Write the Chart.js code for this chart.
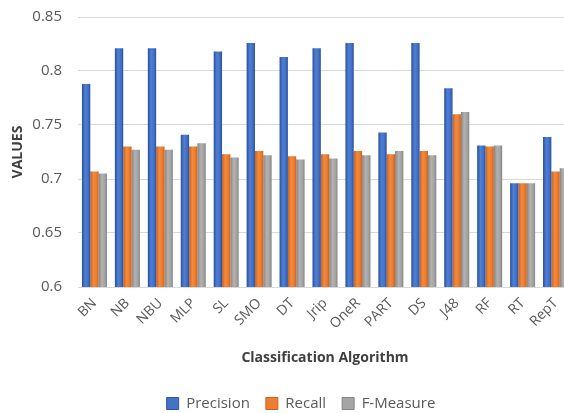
<!DOCTYPE html>
<html>
<head>
  <title>Classification Algorithm Values</title>
  <script src="https://cdn.jsdelivr.net/npm/chart.js"></script>
  <style>
    html, body { margin: 0; padding: 0; background: white; overflow: hidden; }
    #wrap { width: 572px; height: 413px; }
  </style>
</head>
<body>
  <div id="wrap"><canvas id="barChart" width="572" height="413"></canvas></div>

  <script>
    const algorithms = ['BN', 'NB', 'NBU', 'MLP', 'SL', 'SMO', 'DT', 'Jrip', 'OneR', 'PART', 'DS', 'J48', 'RF', 'RT', 'RepT'];
    const precision = [0.788, 0.821, 0.821, 0.741, 0.818, 0.826, 0.813, 0.821, 0.826, 0.743, 0.826, 0.784, 0.731, 0.696, 0.739];
    const recall    = [0.707, 0.730, 0.730, 0.730, 0.723, 0.726, 0.721, 0.723, 0.726, 0.723, 0.726, 0.760, 0.730, 0.696, 0.707];
    const fMeasure  = [0.705, 0.727, 0.727, 0.733, 0.720, 0.722, 0.718, 0.719, 0.722, 0.726, 0.722, 0.762, 0.731, 0.696, 0.710];
    const yTicks = [0.6, 0.65, 0.7, 0.75, 0.8, 0.85];

    const font = "'Open Sans', 'Liberation Sans', sans-serif";

    // side-to-side shading like the office bar style
    function shade(dark, mid, light, flat) {
      return c => {
        const el = c.element;
        if (!el || !el.width) return flat;
        const g = c.chart.ctx.createLinearGradient(el.x - el.width / 2, 0, el.x + el.width / 2, 0);
        g.addColorStop(0, dark);
        g.addColorStop(0.4, light);
        g.addColorStop(0.75, mid);
        g.addColorStop(1, dark);
        return g;
      };
    }

    // nudge the legend a bit right, as in the source picture
    const legendShift = {
      id: 'legendShift',
      afterLayout(chart) {
        chart.legend.left += 13;
        chart.legend.right += 13;
      }
    };

    const ctx = document.getElementById('barChart').getContext('2d');
    const chart = new Chart(ctx, {
      type: 'bar',
      data: {
        labels: algorithms,
        datasets: [
          { label: 'Precision', data: precision, backgroundColor: shade('#2B4F9C', '#4070C4', '#4E80D6', '#4472C4'), borderWidth: 0 },
          { label: 'Recall', data: recall, backgroundColor: shade('#C8621E', '#EB7A2E', '#F38A3E', '#ED7D31'), borderWidth: 0 },
          { label: 'F-Measure', data: fMeasure, backgroundColor: shade('#858585', '#A3A3A3', '#B2B2B2', '#A5A5A5'), borderWidth: 0 }
        ]
      },
      options: {
        responsive: false,
        animation: false,
        // negative bottom padding pushes the legend down toward the edge
        layout: { padding: { top: 17, left: 4, right: 0, bottom: -8 } },
        datasets: { bar: { categoryPercentage: 0.76, barPercentage: 1.0 } },
        plugins: {
          tooltip: { enabled: false },
          legend: {
            position: 'bottom',
            labels: {
              boxWidth: 12, boxHeight: 12, padding: 16,
              color: '#595959',
              font: { family: font, size: 15 },
              generateLabels: c => Chart.defaults.plugins.legend.labels.generateLabels(c).map((item, i) => {
                item.fillStyle = ['#4472C4', '#ED7D31', '#A5A5A5'][i];
                item.strokeStyle = ['#2F55A0', '#C8621E', '#858585'][i];
                item.lineWidth = 1;
                return item;
              })
            }
          }
        },
        scales: {
          x: {
            grid: { display: false },
            border: { display: false },
            ticks: {
              color: '#595959',
              padding: 0,
              maxRotation: 45, minRotation: 45,
              font: { family: font, size: 14 }
            },
            title: {
              display: true,
              text: 'Classification Algorithm',
              color: '#404040',
              font: { family: font, size: 14, weight: 'bold' },
              padding: { top: 0, bottom: 14 }
            },
            afterFit: scale => { scale.height = 93; }
          },
          y: {
            min: 0.6, max: 0.85,
            afterBuildTicks: scale => { scale.ticks = yTicks.map(v => ({ value: v })); },
            grid: { color: '#D9D9D9', lineWidth: 1, drawTicks: false },
            border: { display: false },
            ticks: {
              color: '#595959',
              padding: 16,
              font: { family: font, size: 15 },
              callback: v => String(v)
            },
            title: {
              display: true,
              text: 'VALUES',
              color: '#404040',
              font: { family: font, size: 14, weight: 'bold' },
              padding: { top: 6, bottom: 0 }
            },
            afterFit: scale => {
              scale.width = 74;
              scale.paddingTop = 0;
              scale.paddingBottom = 0;
            }
          }
        }
      },
      plugins: [legendShift]
    });
    // second pass so the bar gradients can read element positions
    chart.update();
  </script>
</body>
</html>
